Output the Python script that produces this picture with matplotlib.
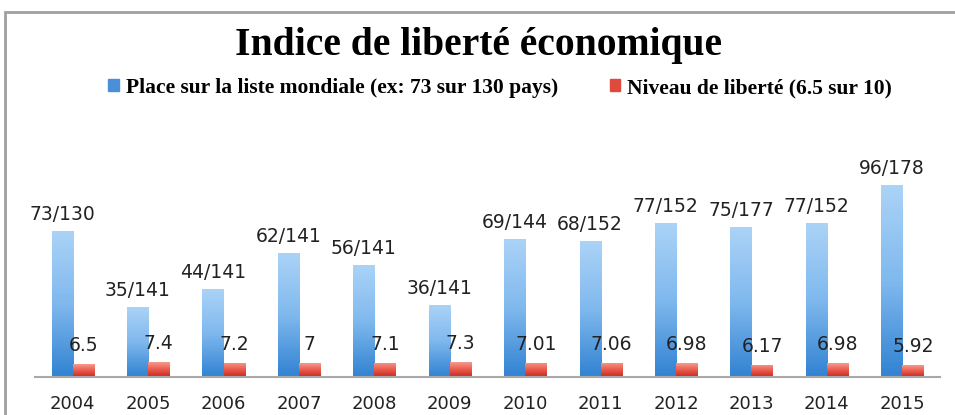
import numpy as np
import matplotlib.pyplot as plt
from matplotlib.patches import Rectangle
from matplotlib.colors import LinearSegmentedColormap

years = ['2004', '2005', '2006', '2007', '2008', '2009',
         '2010', '2011', '2012', '2013', '2014', '2015']
rank = [73, 35, 44, 62, 56, 36, 69, 68, 77, 75, 77, 96]
rank_labels = ['73/130', '35/141', '44/141', '62/141', '56/141', '36/141',
               '69/144', '68/152', '77/152', '75/177', '77/152', '96/178']
level = [6.5, 7.4, 7.2, 7.0, 7.1, 7.3, 7.01, 7.06, 6.98, 6.17, 6.98, 5.92]
level_labels = ['6.5', '7.4', '7.2', '7', '7.1', '7.3',
                '7.01', '7.06', '6.98', '6.17', '6.98', '5.92']

serif = 'Liberation Serif'

fig = plt.figure(figsize=(9.55, 4.15), dpi=100)
ax = fig.add_axes([35 / 955, 38 / 415, 905 / 955, 220 / 415])

x = np.arange(len(years))
w = 0.28

blue_cmap = LinearSegmentedColormap.from_list('b', ['#3283d2', '#80b9ee', '#abd3f7'])
red_cmap = LinearSegmentedColormap.from_list('r', ['#c8281f', '#ea5a4c', '#f59a8c'])
grad = np.linspace(0, 1, 64).reshape(-1, 1)

def gradient_bars(bars, cmap):
    for b in bars:
        x0, y0 = b.get_x(), b.get_y()
        img = ax.imshow(grad, cmap=cmap, origin='lower', aspect='auto',
                        extent=[x0, x0 + b.get_width(), y0, y0 + b.get_height()],
                        zorder=2)
        img.set_clip_path(b)

b1 = ax.bar(x - w / 2, rank, w, color='#5c9fe0', zorder=1)
b2 = ax.bar(x + w / 2, level, w, color='#e04a3c', zorder=1)
gradient_bars(b1, blue_cmap)
gradient_bars(b2, red_cmap)

for i in range(len(years)):
    ax.text(x[i] - w / 2, rank[i] + 3.5, rank_labels[i], ha='center', va='bottom',
            fontsize=13.5, color='#222222')
    ax.text(x[i] + w / 2, level[i] + 4.5, level_labels[i], ha='center', va='bottom',
            fontsize=13.5, color='#222222')

ax.set_xlim(-0.5, 11.5)
ax.set_ylim(0, 110)
ax.set_xticks(x)
ax.set_xticklabels(years, fontsize=13, color='#222222')
ax.tick_params(axis='x', length=0, pad=13)
ax.set_yticks([])
for s in ['top', 'right', 'left']:
    ax.spines[s].set_visible(False)
ax.spines['bottom'].set_color('#a8a8a8')
ax.spines['bottom'].set_linewidth(1.5)
ax.patch.set_alpha(0)

# outer frame of the chart (only left and top visible)
fig.patches.append(Rectangle((5 / 955, -0.2), 1.3, 1.2 - 12 / 415,
                             transform=fig.transFigure, fill=False,
                             edgecolor='#a0a0a0', linewidth=2))

fig.text(478 / 955, 1 - 46 / 415, 'Indice de liberté économique', ha='center',
         va='center', fontsize=28.5, fontweight='bold', family=serif)

handles = [Rectangle((0, 0), 1, 1, color='#4a90d9'), Rectangle((0, 0), 1, 1, color='#e04a3c')]
fig.legend(handles, ['Place sur la liste mondiale (ex: 73 sur 130 pays)',
                     'Niveau de liberté (6.5 sur 10)'],
           loc='center', bbox_to_anchor=(500 / 955, 1 - 88 / 415), ncol=2,
           frameon=False, handlelength=0.5, handleheight=0.5, handletextpad=0.3,
           columnspacing=2.4, prop={'family': serif, 'weight': 'bold', 'size': 15.5})

fig.savefig('out.png', dpi=100)
